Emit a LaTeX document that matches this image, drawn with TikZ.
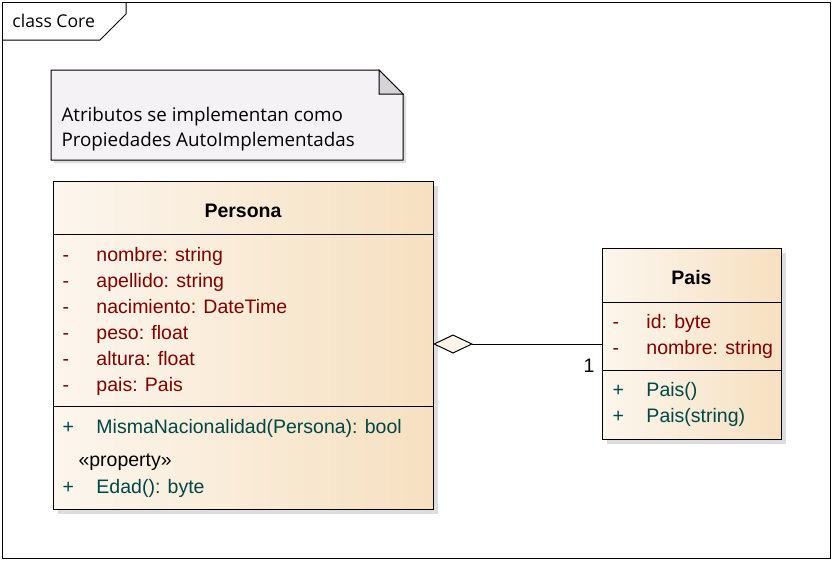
\documentclass[tikz,border=0pt]{standalone}
\usepackage{fontspec}
\setmainfont{Liberation Sans}
\newfontfamily\notefont{Open Sans}
\usetikzlibrary{arrows.meta,shadows}
\definecolor{attrcol}{RGB}{128,0,0}
\definecolor{opcol}{RGB}{0,70,70}
\definecolor{classleft}{RGB}{252,246,238}
\definecolor{classright}{RGB}{246,224,192}
\definecolor{notefill}{RGB}{245,242,245}
\definecolor{foldfill}{RGB}{214,211,216}
\definecolor{shadowcol}{RGB}{221,221,221}
\definecolor{diamfill}{RGB}{252,244,232}

\begin{document}
\begin{tikzpicture}[x=1pt,y=-1pt,line width=1pt,
    classbox/.style={draw,rectangle,inner sep=0,outer sep=0,left color=classleft,right color=classright,
      drop shadow={shadow xshift=5pt,shadow yshift=-5pt,fill=shadowcol,opacity=1}},
    classname/.style={anchor=base,inner sep=0,font=\fontsize{19.5}{26}\selectfont\bfseries},
    attr/.style={anchor=base west,inner sep=0,text=attrcol,font=\fontsize{19.5}{26}\selectfont},
    oper/.style={anchor=base west,inner sep=0,text=opcol,font=\fontsize{19.5}{26}\selectfont},
    notetext/.style={anchor=base west,inner sep=0,font=\notefont\fontsize{18.8}{26}\selectfont}]
            \useasboundingbox (0,0) rectangle (832,560);
            \draw (2,2) rectangle (830,558);
            \draw (2,40) -- (100,40) -- (126,14) -- (126,2);
            \node[anchor=base west,inner sep=0,font=\notefont\fontsize{17.6}{20}\selectfont] (frametitle) at (12,27) {class Core};
            \fill[shadowcol] (54,73) -- (382,73) -- (406,97) -- (406,163) -- (54,163) -- cycle;
            \draw[fill=notefill] (51,70) -- (379,70) -- (403,94) -- (403,160) -- (51,160) -- cycle;
            \draw[fill=foldfill] (379,70) -- (379,94) -- (403,94) -- cycle;
            \node[notetext] (note1) at (61,121) {Atributos se implementan como};
            \node[notetext] (note2) at (61,146) {Propiedades AutoImplementadas};
            \node[classbox,minimum width=380,minimum height=328] (persona) at (243,345) {};
            \draw (persona.west |- 0,234) -- (persona.east |- 0,234);
            \draw (persona.west |- 0,406) -- (persona.east |- 0,406);
            \node[classname] (personaname) at (243,217) {Persona};
            \node[attr] (nombre) at (62,261.5) {\makebox[34pt][l]{-}nombre: string};
            \node[attr] (apellido) at (62,287.5) {\makebox[34pt][l]{-}apellido: string};
            \node[attr] (nacimiento) at (62,313.5) {\makebox[34pt][l]{-}nacimiento: DateTime};
            \node[attr] (peso) at (62,339.5) {\makebox[34pt][l]{-}peso: float};
            \node[attr] (altura) at (62,365.5) {\makebox[34pt][l]{-}altura: float};
            \node[attr] (paisattr) at (62,391.5) {\makebox[34pt][l]{-}pais: Pais};
            \node[oper] (misma) at (62,433) {\makebox[34pt][l]{+}MismaNacionalidad(Persona): bool};
            \node[anchor=base west,inner sep=0,font=\fontsize{19.5}{26}\selectfont] (stereo) at (78,466) {«property»};
            \node[oper] (edad) at (62,493) {\makebox[34pt][l]{+}Edad(): byte};
            \node[classbox,minimum width=179,minimum height=191] (pais) at (691.5,343.5) {};
            \draw (pais.west |- 0,302) -- (pais.east |- 0,302);
            \draw (pais.west |- 0,370) -- (pais.east |- 0,370);
            \node[classname] (paisname) at (691.5,284.5) {Pais};
            \node[attr] (id) at (612,328.5) {\makebox[34pt][l]{-}id: byte};
            \node[attr] (paisnombre) at (612,354.5) {\makebox[34pt][l]{-}nombre: string};
            \node[oper] (ctor1) at (612,396.5) {\makebox[34pt][l]{+}Pais()};
            \node[oper] (ctor2) at (612,422.5) {\makebox[34pt][l]{+}Pais(string)};
            \draw[{Diamond[length=40pt,width=19pt,fill=diamfill,line width=1pt]}-] (persona.east |- 0,344) -- (pais.west |- 0,344);
            \node[anchor=base west,inner sep=0,font=\fontsize{19.5}{26}\selectfont] (mult) at (583,372) {1};
\end{tikzpicture}
\end{document}
